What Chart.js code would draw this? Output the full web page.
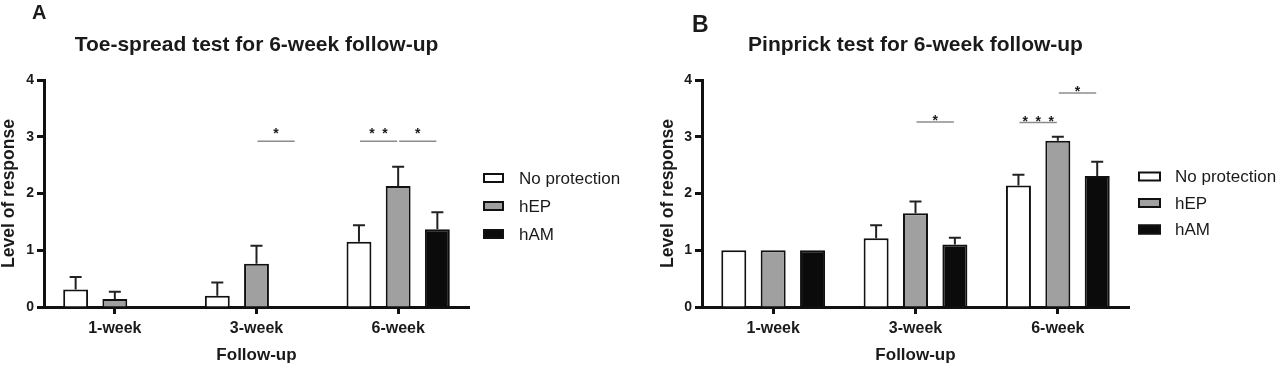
<!DOCTYPE html>
<html>
<head>
<meta charset="utf-8">
<script src="https://cdn.jsdelivr.net/npm/chart.js@4.4.0/dist/chart.umd.min.js"></script>
<style>
  body { margin: 0; background: #fff; }
  .panel { position: absolute; top: 0; width: 640px; height: 369px; }
</style>
</head>
<body>
<div class="panel" style="left:0"><canvas id="chartA" width="640" height="369"></canvas></div>
<div class="panel" style="left:640px"><canvas id="chartB" width="640" height="369"></canvas></div>
<script>
const categories = ['1-week', '3-week', '6-week'];
const seriesNames = ['No protection', 'hEP', 'hAM'];
const yTicks = [0, 1, 2, 3, 4];

// A: toe-spread test (means and upper SEM)
const toeNoProtection = [0.31, 0.20, 1.15];
const toeHEP = [0.14, 0.76, 2.13];
const toeHAM = [0, 0, 1.37];
const toeNoProtectionErr = [0.22, 0.23, 0.29];
const toeHEPErr = [0.13, 0.32, 0.34];
const toeHAMErr = [0, 0, 0.30];

// B: pinprick test
const pinNoProtection = [1.0, 1.21, 2.14];
const pinHEP = [1.0, 1.65, 2.93];
const pinHAM = [1.0, 1.10, 2.31];
const pinNoProtectionErr = [0, 0.23, 0.19];
const pinHEPErr = [0, 0.21, 0.07];
const pinHAMErr = [0, 0.12, 0.25];

// significance brackets: category index, from series, to series, level, stars
const toeSig = [
    { cat: 1, from: 1, to: 2, level: 2.92, stars: 1 },
    { cat: 2, from: 0, to: 1, level: 2.92, stars: 2 },
    { cat: 2, from: 1, to: 2, level: 2.92, stars: 1 }
];
const pinSig = [
    { cat: 1, from: 1, to: 2, level: 3.26, stars: 1 },
    { cat: 2, from: 0, to: 1, level: 3.25, stars: 3 },
    { cat: 2, from: 1, to: 2, level: 3.77, stars: 1 }
];

const FONT = '"Liberation Sans", Arial, sans-serif';
const INK = '#1a1a1a';
const fills = ['#ffffff', '#a0a0a0', '#0b0b0b'];

// error bars, significance lines, legend and panel letter
const annotate = {
    id: 'annotate',
    afterDatasetsDraw(chart, args, opts) {
        const ctx = chart.ctx;
        const y = chart.scales.y;
        ctx.save();
        chart.data.datasets.forEach((ds, i) => {
            chart.getDatasetMeta(i).data.forEach((bar, j) => {
                const e = ds.err[j];
                if (!e) return;
                const top = y.getPixelForValue(ds.data[j] + e);
                ctx.strokeStyle = '#222';
                ctx.lineWidth = 2;
                ctx.beginPath();
                ctx.moveTo(bar.x, bar.y);
                ctx.lineTo(bar.x, top);
                ctx.moveTo(bar.x - 6, top);
                ctx.lineTo(bar.x + 6, top);
                ctx.stroke();
            });
        });

        opts.sig.forEach(s => {
            const x1 = chart.getDatasetMeta(s.from).data[s.cat].x;
            const x2 = chart.getDatasetMeta(s.to).data[s.cat].x;
            const py = y.getPixelForValue(s.level);
            ctx.strokeStyle = '#8c8c8c';
            ctx.lineWidth = 1.5;
            ctx.beginPath();
            ctx.moveTo(x1 + 1, py);
            ctx.lineTo(x2 - 1, py);
            ctx.stroke();
            ctx.fillStyle = INK;
            ctx.font = 'bold 14px ' + FONT;
            ctx.textAlign = 'center';
            ctx.textBaseline = 'alphabetic';
            const mid = (x1 + x2) / 2;
            for (let k = 0; k < s.stars; k++) {
                ctx.fillText('*', mid + (k - (s.stars - 1) / 2) * 13, py - opts.starGap + 9);
            }
        });
        ctx.restore();
    },
    afterDraw(chart, args, opts) {
        const ctx = chart.ctx;
        const lg = opts.legend;
        ctx.save();
        chart.data.datasets.forEach((ds, i) => {
            const cy = lg.y + i * lg.dy;
            ctx.fillStyle = ds.backgroundColor;
            ctx.fillRect(lg.x, cy - lg.h / 2, lg.w, lg.h);
            ctx.strokeStyle = '#111';
            ctx.lineWidth = 2;
            ctx.strokeRect(lg.x + 1, cy - lg.h / 2 + 1, lg.w - 2, lg.h - 2);
            ctx.fillStyle = INK;
            ctx.font = '17px ' + FONT;
            ctx.textAlign = 'left';
            ctx.textBaseline = 'middle';
            ctx.fillText(ds.label, lg.textX, cy + 1);
        });
        const L = opts.letter;
        ctx.font = 'bold ' + L.size + 'px ' + FONT;
        ctx.textAlign = 'left';
        ctx.textBaseline = 'alphabetic';
        ctx.fillText(L.text, L.x, L.y);
        ctx.restore();
    }
};

function makeChart(id, cfg) {
    const values = [cfg.np, cfg.hep, cfg.ham];
    const errs = [cfg.npErr, cfg.hepErr, cfg.hamErr];
    return new Chart(document.getElementById(id), {
        type: 'bar',
        data: {
            labels: categories,
            datasets: seriesNames.map((name, i) => ({
                label: name,
                data: values[i],
                err: errs[i],
                backgroundColor: fills[i],
                borderColor: '#111',
                borderWidth: 2,
                barPercentage: 0.635,
                categoryPercentage: 0.83
            }))
        },
        options: {
            responsive: false,
            animation: false,
            devicePixelRatio: 1,
            layout: { padding: { left: 0, right: cfg.padRight, top: 0, bottom: 0 } },
            plugins: {
                legend: { display: false },
                tooltip: { enabled: false },
                title: {
                    display: true,
                    text: cfg.title,
                    fullSize: false,
                    color: INK,
                    font: { family: FONT, size: 21, weight: 'bold', lineHeight: 1.2 },
                    padding: { top: 32.5, bottom: 22.3 }
                },
                annotate: {
                    sig: cfg.sig,
                    starGap: cfg.starGap,
                    legend: cfg.legend,
                    letter: cfg.letter
                }
            },
            scales: {
                x: {
                    grid: {
                        display: true,
                        drawOnChartArea: false,
                        offset: false,
                        tickLength: 7,
                        tickWidth: 3,
                        tickColor: '#111'
                    },
                    border: { display: true, color: '#111', width: 3 },
                    ticks: {
                        color: INK,
                        padding: 5,
                        font: { family: FONT, size: 16, weight: 'bold' }
                    },
                    title: {
                        display: true,
                        text: 'Follow-up',
                        color: INK,
                        font: { family: FONT, size: 17, weight: 'bold' },
                        padding: { top: 4, bottom: 3 }
                    },
                    afterFit: s => { s.height = 62; }
                },
                y: {
                    min: yTicks[0],
                    max: yTicks[yTicks.length - 1],
                    afterBuildTicks: s => { s.ticks = yTicks.map(v => ({ value: v })); },
                    grid: {
                        display: true,
                        drawOnChartArea: false,
                        tickLength: 7,
                        tickWidth: 3,
                        tickColor: '#111'
                    },
                    border: { display: true, color: '#111', width: 3 },
                    ticks: {
                        color: INK,
                        padding: 3,
                        font: { family: FONT, size: 14, weight: 'bold' }
                    },
                    title: {
                        display: true,
                        text: 'Level of response',
                        color: INK,
                        font: { family: FONT, size: 17.5, weight: 'bold', lineHeight: 1 },
                        padding: { top: cfg.yTitlePad, bottom: 0 }
                    },
                    afterFit: s => { s.width = cfg.yWidth; }
                }
            }
        },
        plugins: [annotate]
    });
}

makeChart('chartA', {
    title: 'Toe-spread test for 6-week follow-up',
    np: toeNoProtection, hep: toeHEP, ham: toeHAM,
    npErr: toeNoProtectionErr, hepErr: toeHEPErr, hamErr: toeHAMErr,
    sig: toeSig,
    starGap: 12,
    padRight: 171,
    yWidth: 44,
    yTitlePad: 0,
    legend: { x: 483, y: 178, dy: 28, w: 21, h: 10, textX: 519 },
    letter: { text: 'A', x: 32, y: 19, size: 20 }
});

makeChart('chartB', {
    title: 'Pinprick test for 6-week follow-up',
    np: pinNoProtection, hep: pinHEP, ham: pinHAM,
    npErr: pinNoProtectionErr, hepErr: pinHEPErr, hamErr: pinHAMErr,
    sig: pinSig,
    starGap: 6,
    padRight: 151,
    yWidth: 62,
    yTitlePad: 19,
    legend: { x: 498, y: 176.5, dy: 26.5, w: 23, h: 10, textX: 535 },
    letter: { text: 'B', x: 52, y: 32, size: 23 }
});
</script>
</body>
</html>
